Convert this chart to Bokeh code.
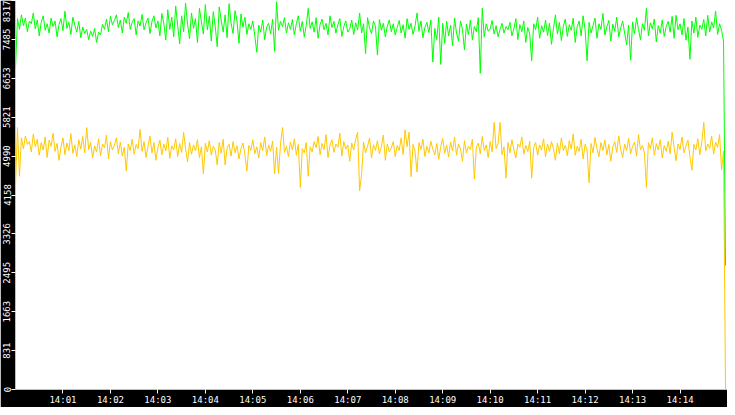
from datetime import datetime, timedelta
from bokeh.plotting import figure
from bokeh.models import Range1d, FixedTicker, DatetimeTickFormatter
from bokeh.embed import file_html
from bokeh.resources import INLINE

# one sample every 2.5 s from 14:00:00
green = [
    6880, 7930, 7700, 8010, 7780, 7940, 7650, 7880, 7820, 8050,
    7710, 7900, 7560, 7850, 7990, 7680, 7820, 7620, 7940, 7760,
    7880, 7540, 7800, 7930, 7670, 8090, 7720, 7850, 7590, 7960,
    7790, 7640, 7870, 7520, 7750, 7610, 7700, 7480, 7660, 7550,
    7720, 7420, 7640, 7580, 7810, 7700, 7920, 7650, 7980, 7800,
    7890, 8010, 7740, 7900, 7620, 7960, 7830, 8060, 7700, 7850,
    7930, 7580, 7880, 7770, 8020, 7690, 7840, 7940, 7610, 7870,
    7990, 7730, 7880, 7560, 8040, 7820, 7470, 8120, 7700, 7960,
    7540, 8200, 7780, 7390, 7990, 7650, 8260, 7810, 7500, 8050,
    7720, 7930, 7420, 8150, 7860, 7600, 8230, 7690, 7980, 7450,
    8080, 7760, 7330, 8180, 7900, 7640, 8010, 7520, 8250, 7830,
    7610, 8100, 7880, 7400, 8030, 7750, 7960, 7590, 7820, 7700,
    7880, 7560, 7210, 7790, 7640, 7900, 7480, 7750, 7830, 7600,
    7920, 7230, 8290, 7680, 7870, 7760, 7950, 7620, 7840, 7700,
    7910, 7580, 7820, 7990, 7660, 7870, 7540, 7780, 8150, 7720,
    7860, 7640, 7950, 7510, 7800, 7920, 7690, 7830, 7580, 7990,
    7740, 7870, 7620, 7800, 7930, 7550, 7760, 7880, 7640, 7710,
    7900, 7590, 7840, 7690, 8050, 7620, 7820, 7180, 7950, 7730,
    7610, 7880, 7760, 7150, 7910, 7680, 7830, 7540, 7770, 7900,
    7650, 7820, 7580, 7740, 7890, 7620, 7800, 7510, 7930, 7700,
    7830, 7590, 7770, 8050, 7660, 7880, 7520, 7740, 7850, 7630,
    7900, 7000, 7720, 7480, 7960, 6950, 7830, 7400, 7870, 7560,
    7790, 7350, 7940, 7620, 7450, 7880, 7700, 7260, 7810, 7590,
    7900, 7480, 7760, 7650, 7950, 6760, 8150, 7540, 7820, 7660,
    7710, 7890, 7600, 7780, 7540, 7700, 7830, 7620, 7760, 7690,
    7850, 7560, 7720, 7930, 7480, 7800, 7650, 7880, 7420, 7740,
    7600, 7030, 7820, 7690, 7960, 7510, 7780, 7640, 7900, 7570,
    7830, 7380, 7720, 8010, 7600, 7850, 7460, 7770, 7920, 7550,
    7800, 7680, 7940, 7420, 7760, 7880, 7560, 7990, 7690, 7030,
    7850, 7620, 7780, 7940, 7510, 7820, 7700, 8040, 7580, 7750,
    7890, 7450, 7810, 7660, 7960, 7540, 7730, 7880, 7620, 7370,
    7790, 7040, 7860, 7600, 7950, 7700, 7480, 7820, 7680, 8150,
    7560, 7840, 7710, 7920, 7430, 7780, 7620, 7900, 7550, 7760,
    7870, 7640, 7980, 7510, 8000, 7690, 7820, 7580, 7930, 7470,
    7750, 7060, 7880, 7620, 7960, 7530, 7790, 7700, 7910, 7560,
    8000, 7640, 7860, 7730, 8090, 7590, 7820, 7680, 7450, 2650,
]

yellow = [
    4360, 5600, 4560, 5380, 5150, 5420, 5240, 5300, 5080, 5460,
    5190, 5350, 5010, 5280, 5120, 5400, 4960, 5330, 5200, 5480,
    5090, 5260, 4900, 5180, 5380, 5020, 5270, 5110, 5470, 5050,
    5230, 4980, 5340, 5140, 5410, 5060, 5600, 5130, 5280, 4950,
    5210, 5080, 5360, 5000, 5250, 5170, 5440, 4930, 5300, 5120,
    5220, 5380, 5040, 5290, 4990, 5180, 4670, 5250, 5110, 5350,
    5030, 5240, 5150, 5560, 5090, 5300, 4960, 5200, 5420, 5060,
    5280, 4900, 5170, 5330, 5020, 5250, 5100, 5390, 4940, 5210,
    5120, 5360, 4980, 5260, 5070, 5500, 5150, 4870, 5280, 5030,
    5230, 5100, 5340, 4960, 5190, 4610, 5270, 5080, 5320, 5010,
    5200, 5120, 4800, 5280, 5050, 5350, 4800, 5170, 5240, 4990,
    5300, 5060, 5210, 4930, 5150, 5270, 5020, 4670, 5220, 5110,
    5340, 5040, 5190, 4950, 5280, 5110, 5400, 5000, 5230, 5090,
    5310, 4610, 5180, 4620, 5250, 5600, 5070, 5200, 4980, 5290,
    5120, 5360, 5010, 5240, 4320, 5150, 5060, 5280, 4560, 5190,
    5080, 5300, 5170, 5410, 5020, 5260, 5130, 5450, 4960, 5220,
    5340, 5070, 5250, 5180, 5480, 4990, 5300, 5140, 5230, 4880,
    5270, 5120, 5350, 5500, 4250, 4600, 5290, 5060, 5200, 5380,
    4950, 5230, 5110, 5320, 5040, 5190, 5440, 4900, 5250, 5080,
    5160, 5300, 4980, 5220, 5110, 5380, 5020, 5550, 5190, 5500,
    4550, 5240, 5090, 4650, 5280, 5130, 5350, 4980, 5200, 5060,
    5310, 5140, 5020, 5260, 4920, 5190, 5370, 5050, 5230, 4970,
    5290, 5100, 5400, 5010, 5250, 5140, 4880, 5320, 5060, 5200,
    5130, 5350, 4500, 5180, 5270, 5040, 5410, 5110, 5230, 4960,
    5300, 5080, 5710, 5150, 5260, 5710, 5020, 5190, 4520, 5280,
    5060, 5340, 5120, 4950, 5250, 5180, 5400, 5030, 5220, 5090,
    5310, 4520, 5170, 5280, 5010, 5230, 5120, 5360, 4980, 5250,
    5090, 5300, 5150, 4900, 5270, 5040, 5380, 5110, 5220, 5000,
    5320, 5140, 5460, 5010, 5200, 5090, 5350, 4930, 5240, 5120,
    4420, 5260, 5060, 5390, 5150, 4980, 5280, 5110, 5330, 5020,
    5240, 4880, 5180, 5300, 5070, 5420, 5130, 4960, 5250, 5110,
    5370, 5040, 5200, 5290, 4990, 5450, 5120, 5220, 5060, 4320,
    5280, 5150, 5380, 5010, 5260, 5120, 5340, 4950, 5220, 5090,
    5310, 5040, 5500, 5180, 4890, 5250, 5130, 5400, 5060, 5210,
    5330, 4980, 4690, 5240, 5120, 5360, 5020, 5280, 5710, 5100,
    5250, 5150, 5420, 5030, 5290, 5180, 5450, 4700, 5100, 0,
]

y_ticks = [0, 831.7, 1663.4, 2495.1, 3326.8, 4158.5, 4990.2, 5821.9, 6653.6, 7485.3, 8317]
y_labels = ["0", "831", "1663", "2495", "3326", "4158", "4990", "5821", "6653", "7485", "8317"]
minute_ticks = ["14:01", "14:02", "14:03", "14:04", "14:05", "14:06", "14:07",
                "14:08", "14:09", "14:10", "14:11", "14:12", "14:13", "14:14"]

start = datetime(2024, 1, 1, 14, 0, 0)
times = [start + timedelta(seconds=2.5 * i) for i in range(len(green))]

def ms(dt):
    return (dt - datetime(1970, 1, 1)).total_seconds() * 1000

x_ticks = [ms(datetime.strptime("2024-01-01 " + t, "%Y-%m-%d %H:%M")) for t in minute_ticks]

p = figure(width=727, height=407, x_axis_type="datetime",
           output_backend="svg", toolbar_location=None,
           x_range=Range1d(ms(start), ms(start + timedelta(minutes=15))),
           y_range=Range1d(0, 8317),
           min_border_left=15, min_border_bottom=17, min_border_top=0, min_border_right=0)

p.background_fill_color = "white"
p.border_fill_color = "black"
p.outline_line_color = None
p.xgrid.visible = False
p.ygrid.visible = False

p.line(times, yellow, line_color="#ffc800", line_width=1)
p.line(times, green, line_color="#00ff00", line_width=1)

p.yaxis.ticker = FixedTicker(ticks=y_ticks)
p.yaxis.major_label_overrides = {t: l for t, l in zip(y_ticks, y_labels)}
p.yaxis.major_label_orientation = "vertical"
p.xaxis.ticker = FixedTicker(ticks=x_ticks)
p.xaxis.formatter = DatetimeTickFormatter(minutes="%H:%M", hours="%H:%M", minsec="%H:%M")

for ax in (p.xaxis, p.yaxis):
    ax.axis_line_color = None
    ax.major_tick_line_color = "white"
    ax.major_tick_out = 4
    ax.major_tick_in = 0
    ax.minor_tick_line_color = None
    ax.major_label_text_color = "white"
    ax.major_label_text_font = "DejaVu Sans Mono"
    ax.major_label_text_font_size = "9px"
    ax.major_label_standoff = 1

open("out.html", "w").write(file_html(p, INLINE))
